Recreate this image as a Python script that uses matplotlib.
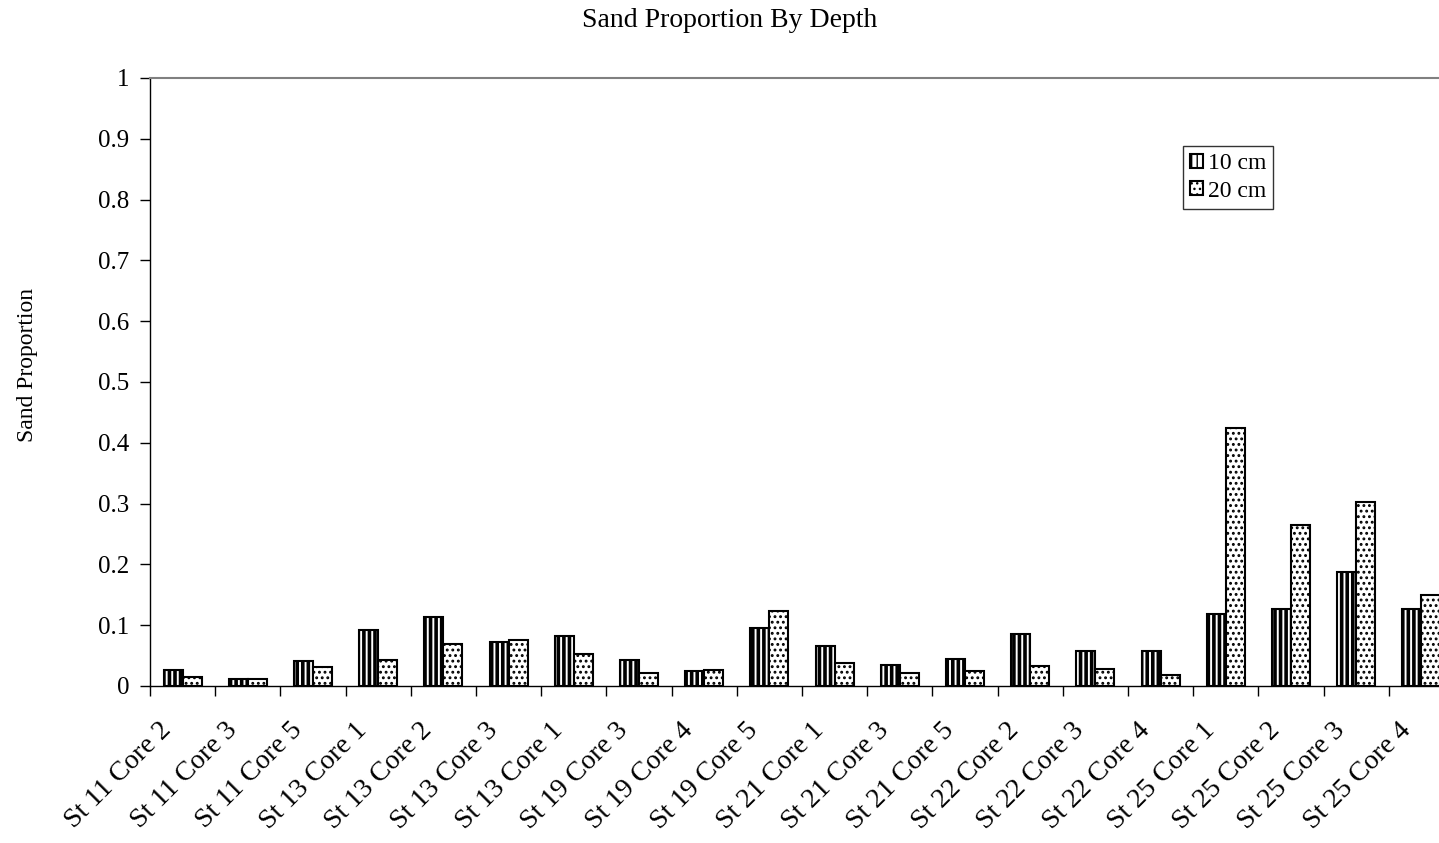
import matplotlib
matplotlib.use("Agg")
import matplotlib.pyplot as plt
import matplotlib.transforms as mtransforms
import numpy as np

plt.rcParams["font.family"] = ["Liberation Serif", "DejaVu Serif"]

categories = [
    "St 11 Core 2", "St 11 Core 3", "St 11 Core 5", "St 13 Core 1", "St 13 Core 2",
    "St 13 Core 3", "St 13 Core 1", "St 19 Core 3", "St 19 Core 4", "St 19 Core 5",
    "St 21 Core 1", "St 21 Core 3", "St 21 Core 5", "St 22 Core 2", "St 22 Core 3",
    "St 22 Core 4", "St 25 Core 1", "St 25 Core 2", "St 25 Core 3", "St 25 Core 4",
]
depth_10cm = [0.026, 0.011, 0.041, 0.092, 0.113, 0.072, 0.083, 0.043, 0.024, 0.096,
              0.066, 0.034, 0.044, 0.086, 0.058, 0.057, 0.118, 0.127, 0.187, 0.127]
depth_20cm = [0.015, 0.012, 0.032, 0.042, 0.069, 0.075, 0.052, 0.022, 0.026, 0.123,
              0.038, 0.022, 0.025, 0.033, 0.028, 0.018, 0.425, 0.264, 0.303, 0.150]
yticks = [0, 0.1, 0.2, 0.3, 0.4, 0.5, 0.6, 0.7, 0.8, 0.9, 1]
ytick_labels = ["0", "0.1", "0.2", "0.3", "0.4", "0.5", "0.6", "0.7", "0.8", "0.9", "1"]

fig = plt.figure(figsize=(14.39, 8.43), dpi=100)
ax = fig.add_axes([150 / 1439, 1 - 686 / 843, 1304 / 1439, 608 / 843])

x = np.arange(len(categories))
w = 0.29

with plt.rc_context({"hatch.linewidth": 2.6}):
    b1 = ax.bar(x - w / 2, depth_10cm, w, facecolor="white", edgecolor="black",
                linewidth=1.5, hatch="|||", label="10 cm")
with plt.rc_context({"hatch.linewidth": 1.3}):
    b2 = ax.bar(x + w / 2, depth_20cm, w, facecolor="white", edgecolor="black",
                linewidth=1.5, hatch="...", label="20 cm")

ax.set_xlim(-0.5, len(categories) - 0.5)
ax.set_ylim(0, 1)
ax.set_yticks(yticks)
ax.set_yticklabels(ytick_labels, fontsize=18)
ax.tick_params(axis="y", direction="out", length=7, width=1, pad=8)

# category boundaries carry the tick marks, labels sit on minor ticks
ax.set_xticks(np.arange(len(categories) + 1) - 0.5)
ax.set_xticklabels([])
ax.tick_params(axis="x", direction="out", length=7, width=1)
ax.set_xticks(x, minor=True)
ax.set_xticklabels(categories, minor=True, rotation=45, ha="right", va="top",
                   rotation_mode="default", fontsize=20)
ax.tick_params(axis="x", which="minor", length=0, pad=23)
shift = mtransforms.ScaledTranslation(-0.06, 0, fig.dpi_scale_trans)
for lab in ax.get_xticklabels(minor=True):
    lab.set_transform(lab.get_transform() + shift)

ax.spines["right"].set_visible(False)
ax.spines["top"].set_color("#808080")
ax.spines["top"].set_linewidth(1.5)
ax.spines["left"].set_linewidth(1)
ax.spines["bottom"].set_linewidth(1)

fig.text(0.507, 0.976, "Sand Proportion By Depth", ha="center", va="center", fontsize=20)
fig.text(0.019, 0.567, "Sand Proportion", ha="center", va="center", rotation=90, fontsize=17)

leg = fig.legend(handles=[b1, b2], loc="upper left", bbox_to_anchor=(1183 / 1439, 1 - 146 / 843),
                 fontsize=17, frameon=True, fancybox=False, edgecolor="black",
                 handlelength=0.55, handleheight=0.55, handletextpad=0.2,
                 borderpad=0.3, labelspacing=0.28, borderaxespad=0)
leg.get_frame().set_linewidth(1)

fig.savefig("out.png", dpi=100)
